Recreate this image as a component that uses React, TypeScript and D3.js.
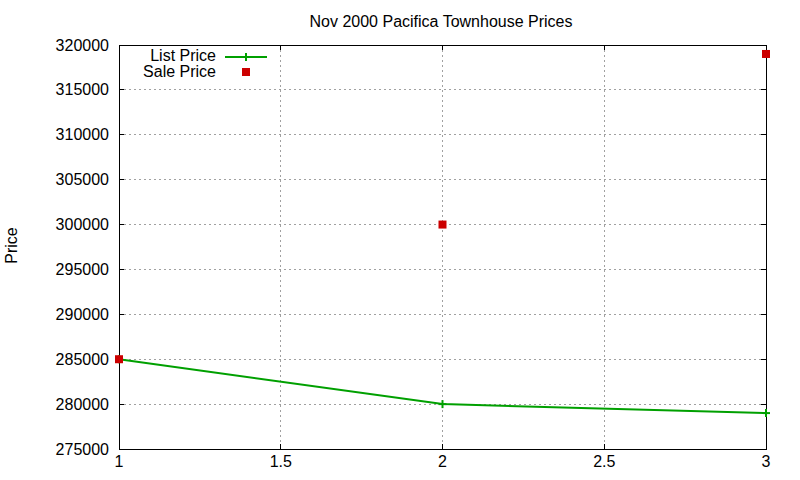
import React from "react";
import * as d3 from "d3";

const xValues = [1, 2, 3];
const listPrice = [285000, 280000, 279000];
const salePrice = [285000, 300000, 319000];
const xTickValues = [1, 1.5, 2, 2.5, 3];
const yTickValues = [275000, 280000, 285000, 290000, 295000, 300000, 305000, 310000, 315000, 320000];
const title = "Nov 2000 Pacifica Townhouse Prices";
const yLabel = "Price";
const seriesNames = ["List Price", "Sale Price"];

const W = 800, H = 480;
const L = 119, R = 766, T = 45, B = 449;
const FONT = "'Liberation Sans', Arial, sans-serif";
const GREEN = "#00a000";
const RED = "#cc0000";

export default function App() {
  const x = d3.scaleLinear().domain([1, 3]).range([L, R]);
  const y = d3.scaleLinear().domain([275000, 320000]).range([B, T]);
  const line = d3.line<number>().x((_, i) => x(xValues[i])).y((d) => y(d));
  const tk = 5;
  return (
    <div style={{ position: "fixed", left: 0, top: 0 }}>
      <svg width={W} height={H} style={{ display: "block", background: "#fff" }} fontFamily={FONT} fontSize={16}>
        <rect x={0} y={0} width={W} height={H} fill="#fff" />
        {/* grid */}
        <g stroke="#a0a0a0" strokeWidth={1} strokeDasharray="2,3" shapeRendering="crispEdges">
          {xTickValues.filter((v) => v > 1 && v < 3).map((v) => (
            <line key={"gx" + v} x1={x(v)} x2={x(v)} y1={T} y2={B} />
          ))}
          {yTickValues.filter((v) => v > 275000 && v < 320000).map((v) => (
            <line key={"gy" + v} x1={L} x2={R} y1={y(v)} y2={y(v)} />
          ))}
        </g>
        {/* ticks */}
        <g stroke="#000" strokeWidth={1} shapeRendering="crispEdges">
          {yTickValues.map((v) => (
            <g key={"ty" + v}>
              <line x1={L} x2={L + tk} y1={y(v)} y2={y(v)} />
              <line x1={R} x2={R - tk} y1={y(v)} y2={y(v)} />
            </g>
          ))}
          {xTickValues.map((v) => (
            <g key={"tx" + v}>
              <line x1={x(v)} x2={x(v)} y1={B} y2={B - tk} />
              <line x1={x(v)} x2={x(v)} y1={T} y2={T + tk} />
            </g>
          ))}
          <rect x={L} y={T} width={R - L} height={B - T} fill="none" />
        </g>
        {/* tick labels */}
        <g fill="#000">
          {yTickValues.map((v) => (
            <text key={"ly" + v} x={109} y={y(v) + 5.5} textAnchor="end">{String(v)}</text>
          ))}
          {xTickValues.map((v) => (
            <text key={"lx" + v} x={x(v)} y={467} textAnchor="middle">{String(v)}</text>
          ))}
          <text x={441} y={27} textAnchor="middle">{title}</text>
          <text transform={`translate(17,245.5) rotate(-90)`} textAnchor="middle">{yLabel}</text>
        </g>
        {/* list price */}
        <path d={line(listPrice) || ""} fill="none" stroke={GREEN} strokeWidth={2} />
        {listPrice.map((v, i) => (
          <g key={"p" + i} stroke={GREEN} strokeWidth={2}>
            <line x1={x(xValues[i]) - 4} x2={x(xValues[i]) + 4} y1={y(v)} y2={y(v)} />
            <line x1={x(xValues[i])} x2={x(xValues[i])} y1={y(v) - 4} y2={y(v) + 4} />
          </g>
        ))}
        {/* sale price */}
        {salePrice.map((v, i) => (
          <rect key={"s" + i} x={x(xValues[i]) - 4} y={y(v) - 4} width={8} height={8} fill={RED} />
        ))}
        {/* legend */}
        <g>
          <text x={216} y={61} textAnchor="end" fill="#000">{seriesNames[0]}</text>
          <line x1={225} x2={267} y1={57} y2={57} stroke={GREEN} strokeWidth={2} />
          <line x1={246} x2={246} y1={53} y2={61} stroke={GREEN} strokeWidth={2} />
          <text x={216} y={77} textAnchor="end" fill="#000">{seriesNames[1]}</text>
          <rect x={242} y={68} width={8} height={8} fill={RED} />
        </g>
      </svg>
    </div>
  );
}
